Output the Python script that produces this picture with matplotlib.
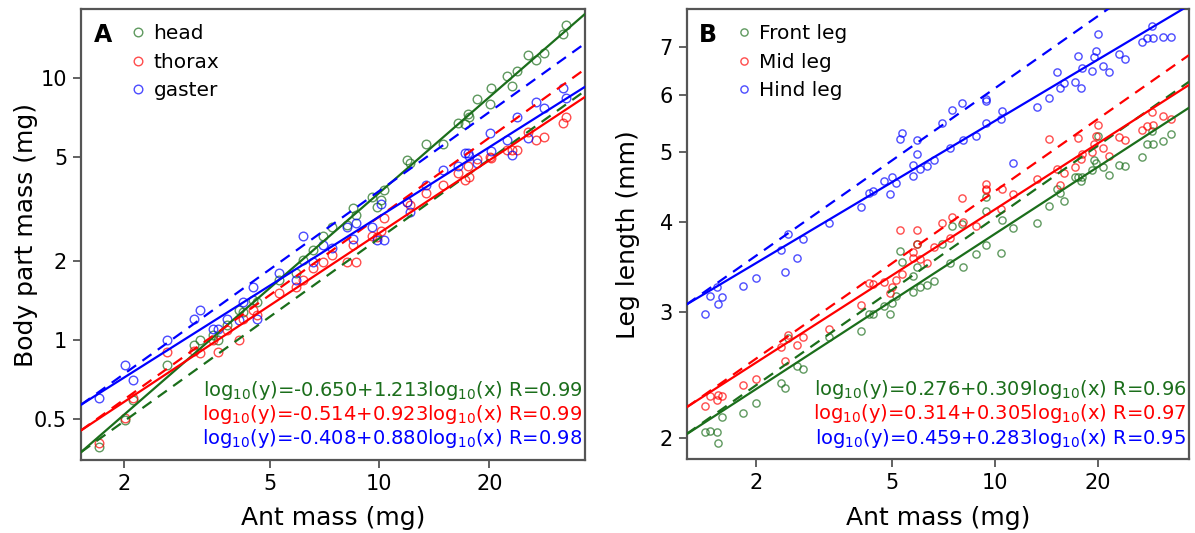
import numpy as np
import matplotlib
matplotlib.use('Agg')
import matplotlib.pyplot as plt
from matplotlib.ticker import FixedLocator, FixedFormatter, NullLocator

# ── panel A data: ant mass vs body part mass (mg) ─────────────────────────────
ant_mass_a = [1.70, 2.01, 2.11, 2.62, 3.10, 3.22, 3.50, 3.61, 3.82, 4.12,
              4.23, 4.50, 4.62, 5.31, 5.91, 6.17, 6.58, 7.01, 7.41, 8.15,
              8.46, 8.63, 9.54, 9.85, 10.1, 10.3, 11.9, 12.1, 13.4, 14.9,
              16.4, 17.2, 17.5, 17.6, 18.5, 20.1, 20.2, 22.4, 23.1, 23.8,
              25.5, 26.9, 28.2, 31.8, 32.4]
head_mass = [0.390, 0.495, 0.590, 0.803, 0.957, 1.00, 1.045, 1.00, 1.14, 1.30,
             1.28, 1.42, 1.40, 1.70, 1.81, 2.02, 2.21, 2.50, 2.71, 2.75,
             3.19, 3.00, 3.51, 3.23, 3.43, 3.74, 4.87, 4.73, 5.61, 5.61,
             6.77, 6.69, 7.30, 7.10, 8.31, 7.98, 9.16, 10.2, 9.37, 10.7,
             12.3, 11.8, 12.5, 14.8, 16.0]
thorax_mass = [0.403, 0.502, 0.599, 0.902, 0.910, 0.894, 1.00, 0.902, 1.09, 1.00,
               1.20, 1.30, 1.25, 1.51, 1.60, 1.70, 1.88, 1.99, 2.11, 1.99,
               2.31, 1.99, 2.50, 2.48, 2.60, 2.92, 3.38, 3.28, 3.64, 3.91,
               4.36, 4.09, 4.62, 4.21, 4.90, 5.02, 4.95, 5.32, 5.32, 5.32,
               6.25, 5.81, 5.98, 6.77, 7.13]
gaster_mass = [0.602, 0.803, 0.703, 1.00, 1.20, 1.30, 1.10, 1.10, 1.20, 1.19,
               1.40, 1.60, 1.20, 1.80, 1.70, 2.50, 1.99, 2.31, 2.24, 2.71,
               2.43, 2.79, 2.71, 2.41, 3.31, 2.41, 3.38, 3.09, 3.91, 4.46,
               4.62, 5.20, 5.20, 5.05, 4.73, 6.20, 5.29, 5.81, 5.09, 7.10,
               5.93, 8.09, 7.72, 9.16, 8.39]
parts_a = ['head', 'thorax', 'gaster']
fit_a = [(-0.650, 1.213, 0.99), (-0.514, 0.923, 0.99), (-0.408, 0.880, 0.98)]
iso_a = [-0.611, -0.528, -0.430]          # isometry (slope 1) intercepts

# ── panel B data: ant mass (mg) vs leg length (mm) ────────────────────────────
ant_mass_b = [1.42, 1.47, 1.54, 1.55, 1.59, 1.84, 2.00, 2.37, 2.43, 2.48,
              2.65, 2.75, 3.28, 4.06, 4.30, 4.41, 4.73, 4.94, 5.00, 5.14,
              5.28, 5.37, 5.76, 5.78, 5.93, 5.94, 6.03, 6.34, 6.63, 7.02,
              7.40, 7.48, 8.01, 8.09, 8.82, 9.40, 9.43, 9.46, 10.4, 10.5,
              11.3, 13.3, 14.4, 15.2, 15.5, 15.9, 17.2, 17.5, 17.9, 18.0,
              19.2, 19.5, 19.8, 20.0, 20.7, 21.6, 23.1, 24.0, 26.9, 27.8,
              28.8, 29.1, 31.0, 32.7]
front_leg = [2.04, 2.05, 2.04, 1.97, 2.14, 2.17, 2.24, 2.39, 2.35, 2.76,
             2.52, 2.50, 2.77, 2.82, 2.98, 2.98, 3.05, 2.98, 3.08, 3.15,
             3.64, 3.52, 3.36, 3.19, 3.46, 3.73, 3.25, 3.27, 3.31, 3.73,
             3.51, 3.94, 3.97, 3.46, 3.61, 3.71, 4.33, 4.14, 3.62, 4.02,
             3.92, 3.98, 4.20, 4.44, 4.38, 4.27, 4.61, 4.62, 4.55, 4.62,
             4.72, 4.87, 4.82, 5.26, 4.76, 4.64, 4.79, 4.78, 4.92, 5.13,
             5.35, 5.13, 5.18, 5.29]
mid_leg = [2.22, 2.29, 2.26, 2.30, 2.29, 2.37, 2.42, 2.68, 2.56, 2.78,
           2.70, 2.77, 2.84, 3.06, 3.29, 3.28, 3.30, 3.18, 3.25, 3.32,
           3.89, 3.38, 3.63, 3.56, 3.73, 3.90, 3.55, 3.51, 3.69, 3.98,
           3.80, 4.06, 4.32, 4.00, 3.94, 4.51, 4.43, 4.44, 4.17, 4.44,
           4.37, 4.58, 5.21, 4.73, 4.50, 4.68, 4.77, 5.23, 4.89, 4.97,
           5.00, 5.13, 5.26, 5.45, 5.07, 4.93, 5.24, 5.19, 5.36, 5.43,
           5.68, 5.45, 5.61, 5.55]
hind_leg = [2.98, 3.15, 3.25, 3.07, 3.14, 3.26, 3.34, 3.65, 3.40, 3.85,
            3.56, 3.79, 3.98, 4.19, 4.38, 4.42, 4.56, 4.37, 4.61, 4.53,
            5.22, 5.32, 4.80, 4.63, 4.97, 5.19, 4.73, 4.78, 4.87, 5.48,
            5.07, 5.72, 5.84, 5.19, 5.26, 5.48, 5.92, 5.89, 5.55, 5.70,
            4.83, 5.77, 5.95, 6.45, 6.13, 6.23, 6.26, 6.80, 6.13, 6.55,
            6.48, 6.78, 6.91, 7.29, 6.58, 6.46, 6.84, 6.73, 7.10, 7.19,
            7.49, 7.19, 7.23, 7.23]
legs_b = ['Front leg', 'Mid leg', 'Hind leg']
fit_b = [(0.276, 0.309, 0.96), (0.314, 0.305, 0.97), (0.459, 0.283, 0.95)]
iso_b = [0.274, 0.311, 0.454]             # isometry (slope 1/3) intercepts

# ── style ─────────────────────────────────────────────────────────────────────
COLORS = ['#1b6e1b', 'red', 'blue']
EDGE   = '#555555'
plt.rcParams['font.family'] = ['DejaVu Sans']
plt.rcParams['mathtext.fontset'] = 'dejavusans'


def style_axes(ax, xlim, ylim, xticks, yticks, ylabel, ylabel_x):
    ax.set_xscale('log')
    ax.set_yscale('log')
    ax.set_xlim(*xlim)
    ax.set_ylim(*ylim)
    ax.xaxis.set_major_locator(FixedLocator(xticks))
    ax.xaxis.set_major_formatter(FixedFormatter([f'{t:g}' for t in xticks]))
    ax.yaxis.set_major_locator(FixedLocator(yticks))
    ax.yaxis.set_major_formatter(FixedFormatter([f'{t:g}' for t in yticks]))
    ax.xaxis.set_minor_locator(NullLocator())
    ax.yaxis.set_minor_locator(NullLocator())
    for s in ax.spines.values():
        s.set_color(EDGE)
        s.set_linewidth(1.6)
    ax.tick_params(direction='out', length=6, width=1.3, color=EDGE,
                   labelsize=15, pad=4)
    ax.set_xlabel('Ant mass (mg)', fontsize=18)
    ax.set_ylabel(ylabel, fontsize=18)
    ax.xaxis.set_label_coords(0.5, -0.103)
    ax.yaxis.set_label_coords(ylabel_x, 0.5)


def draw_panel(ax, xs, ys_list, names, fits, isos, iso_slope, letter, msize):
    xlim = ax.get_xlim()
    lx = np.log10(np.array(xlim))
    for ys, name, (a, b, r), c0, col in zip(ys_list, names, fits, isos, COLORS):
        ax.plot(xs, ys, 'o', mfc='none', mec=col, mew=1.0, ms=msize,
                alpha=0.7, label=name, zorder=3)
        ax.plot(xlim, 10 ** (a + b * lx), '-', color=col, lw=1.6, zorder=4)
        ax.plot(xlim, 10 ** (c0 + iso_slope * lx), '--', color=col, lw=1.6,
                dashes=(5, 3.5), zorder=4)
    leg = ax.legend(loc='upper left', bbox_to_anchor=(0.06, 1.0),
                    frameon=False, fontsize=14.5, handletextpad=0.15,
                    handlelength=1.2, labelspacing=0.48, borderaxespad=0.35)
    for h in leg.legend_handles:
        h.set_alpha(0.7)
    ax.text(0.025, 0.968, letter, transform=ax.transAxes, fontsize=17,
            fontweight='bold', va='top', ha='left')
    for i, ((a, b, r), col) in enumerate(zip(fits, COLORS)):
        sign = '+' if b >= 0 else '-'
        txt = (r'log$_{10}$(y)=' + f'{a:.3f}{sign}{abs(b):.3f}' +
               r'log$_{10}$(x) ' + f'R={r:.2f}')
        ax.text(0.995, 0.155 - i * 0.054, txt, transform=ax.transAxes,
                color=col, fontsize=14, ha='right', va='center')


fig = plt.figure(figsize=(11.95, 5.33), dpi=100)

ax_a = fig.add_axes([0.0678, 0.137, 0.4217, 0.846])
style_axes(ax_a, (1.522, 36.57), (0.3478, 18.4), [2, 5, 10, 20],
           [0.5, 1, 2, 5, 10], 'Body part mass (mg)', -0.085)
draw_panel(ax_a, ant_mass_a, [head_mass, thorax_mass, gaster_mass],
           parts_a, fit_a, iso_a, 1.0, 'A', 6.2)

ax_b = fig.add_axes([0.5746, 0.1383, 0.4204, 0.8447])
style_axes(ax_b, (1.257, 36.98), (1.870, 7.90), [2, 5, 10, 20],
           [2, 3, 4, 5, 6, 7], 'Leg length (mm)', -0.092)
draw_panel(ax_b, ant_mass_b, [front_leg, mid_leg, hind_leg],
           legs_b, fit_b, iso_b, 1.0 / 3.0, 'B', 5.2)

fig.savefig('out.png', dpi=100)
